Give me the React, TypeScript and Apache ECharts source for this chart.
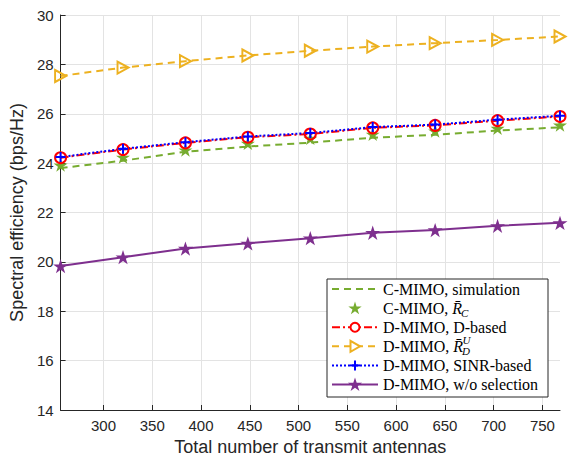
import React, { useEffect, useRef } from 'react';
import * as echarts from 'echarts';

const antennas = [256, 320, 384, 448, 512, 576, 640, 704, 768];
const cmimoSim = [23.8, 24.1, 24.46, 24.67, 24.83, 25.03, 25.15, 25.32, 25.45];
const cmimoRc = [23.92, 24.24, 24.53, 24.8, 25.0, 25.17, 25.3, 25.41, 25.54];
const dmimoD = [24.22, 24.55, 24.82, 25.05, 25.18, 25.43, 25.53, 25.72, 25.89];
const dmimoRdU = [27.53, 27.87, 28.13, 28.36, 28.55, 28.72, 28.86, 28.99, 29.13];
const dmimoSinr = [24.25, 24.58, 24.85, 25.08, 25.22, 25.46, 25.56, 25.76, 25.92];
const dmimoNoSel = [19.83, 20.19, 20.54, 20.75, 20.96, 21.18, 21.29, 21.46, 21.58];
const xTicks = [300, 350, 400, 450, 500, 550, 600, 650, 700, 750];

const GREEN = '#77AC30';
const RED = '#FF0000';
const YELLOW = '#EDB120';
const BLUE = '#0000FF';
const PURPLE = '#7E2F8E';
const AXIS = '#262626';

const STAR =
  'path://M50,0L61.23,34.55L97.55,34.55L68.16,55.9L79.39,90.45L50,69.1L20.61,90.45L31.84,55.9L2.45,34.55L38.77,34.55Z';
const TRI_RIGHT = 'path://M0,0L9,5L0,10Z';
const PLUS = 'path://M4,0H6V4H10V6H6V10H4V6H0V4H4Z';

const zip = (ys: number[]) => antennas.map((x, i) => [x, ys[i]]);

const starPoints = (cx: number, cy: number, R: number) => {
  const pts: number[][] = [];
  const r = R * 0.382;
  for (let i = 0; i < 10; i++) {
    const a = ((-90 + i * 36) * Math.PI) / 180;
    const rr = i % 2 === 0 ? R : r;
    pts.push([cx + rr * Math.cos(a), cy + 0.5 + rr * Math.sin(a)]);
  }
  return pts;
};

const SERIF = '"Liberation Serif", "Times New Roman", serif';
const SANS = '"Liberation Sans", Arial, Helvetica, sans-serif';

function measure(text: string, font: string) {
  const c = document.createElement('canvas').getContext('2d');
  if (!c) return text.length * 7;
  c.font = font;
  return c.measureText(text).width;
}

function buildLegend() {
  const LX = 327, LY = 279, LW = 221, LH = 118;
  const lx1 = 332, lx2 = 378, mx = 355, tx = 383;
  const fs = 16;
  const rowY = (i: number) => LY + 10 + i * 19.1;
  const els: any[] = [];
  els.push({
    type: 'rect',
    shape: { x: LX, y: LY, width: LW, height: LH },
    style: { fill: '#fff', stroke: AXIS, lineWidth: 1 },
    z: 100,
  });
  const line = (i: number, color: string, dash: any) => ({
    type: 'line',
    shape: { x1: lx1, y1: rowY(i), x2: lx2, y2: rowY(i) },
    style: { stroke: color, lineWidth: 2, lineDash: dash },
    z: 101,
  });
  const txt = (x: number, y: number, text: string, size = fs, italic = false) => ({
    type: 'text',
    x,
    y,
    style: {
      text,
      fontSize: size,
      fontFamily: SERIF,
      fontStyle: italic ? 'italic' : 'normal',
      fill: '#000',
      verticalAlign: 'middle',
      align: 'left',
    },
    z: 102,
  });
  const rbar = (i: number, prefix: string, sub: string, sup?: string) => {
    const y = rowY(i);
    const w1 = measure(prefix, `${fs}px ${SERIF}`);
    const w2 = measure('R', `italic ${fs}px ${SERIF}`);
    els.push(txt(tx, y, prefix));
    els.push(txt(tx + w1, y, 'R\u0304', fs, true));
    els.push(txt(tx + w1 + w2 - 1, y + 5, sub, 11, true));
    if (sup) els.push(txt(tx + w1 + w2 - 0.5, y - 6, sup, 11, true));
  };

  // Row 0: C-MIMO simulation
  els.push(line(0, GREEN, [7, 5]));
  els.push(txt(tx, rowY(0), 'C-MIMO, simulation'));
  // Row 1: C-MIMO R_C
  els.push({
    type: 'polygon',
    shape: { points: starPoints(mx, rowY(1), 7) },
    style: { fill: GREEN },
    z: 101,
  });
  rbar(1, 'C-MIMO, ', 'C');
  // Row 2: D-based
  els.push(line(2, RED, [8, 3, 2, 3]));
  els.push({
    type: 'circle',
    shape: { cx: mx, cy: rowY(2), r: 4.5 },
    style: { fill: '#fff', stroke: RED, lineWidth: 2 },
    z: 101,
  });
  els.push(txt(tx, rowY(2), 'D-MIMO, D-based'));
  // Row 3: R_D^U
  els.push(line(3, YELLOW, [7, 5]));
  els.push({
    type: 'polygon',
    shape: { points: [[mx - 4.5, rowY(3) - 5.5], [mx + 5, rowY(3)], [mx - 4.5, rowY(3) + 5.5]] },
    style: { fill: '#fff', stroke: YELLOW, lineWidth: 2 },
    z: 101,
  });
  rbar(3, 'D-MIMO, ', 'D', 'U');
  // Row 4: SINR-based
  els.push(line(4, BLUE, [2, 2]));
  els.push({
    type: 'rect',
    shape: { x: mx - 1, y: rowY(4) - 5, width: 2, height: 10 },
    style: { fill: BLUE },
    z: 101,
  });
  els.push({
    type: 'rect',
    shape: { x: mx - 5, y: rowY(4) - 1, width: 10, height: 2 },
    style: { fill: BLUE },
    z: 101,
  });
  els.push(txt(tx, rowY(4), 'D-MIMO, SINR-based'));
  // Row 5: w/o selection
  els.push(line(5, PURPLE, null));
  els.push({
    type: 'polygon',
    shape: { points: starPoints(mx, rowY(5), 7.5) },
    style: { fill: PURPLE },
    z: 101,
  });
  els.push(txt(tx, rowY(5), 'D-MIMO, w/o selection'));
  return els;
}

export default function App() {
  const ref = useRef<HTMLDivElement>(null);
  useEffect(() => {
    document.body.style.margin = '0';
    const chart = echarts.init(ref.current!, null, { renderer: 'svg' });
    const option: any = {
      animation: false,
      backgroundColor: '#fff',
      grid: { left: 60, right: 10, top: 15, bottom: 51, containLabel: false },
      xAxis: {
        type: 'value',
        min: 256,
        max: 768,
        name: 'Total number of transmit antennas',
        nameLocation: 'middle',
        nameGap: 22,
        nameTextStyle: { fontSize: 18, fontFamily: SANS, color: AXIS },
        axisLine: { show: true, onZero: false, lineStyle: { color: AXIS, width: 1 } },
        axisTick: { show: true, inside: true, length: 5, customValues: xTicks, lineStyle: { color: AXIS } },
        axisLabel: { customValues: xTicks, fontSize: 15, fontFamily: SANS, color: AXIS, margin: 8 },
        splitLine: { show: true, lineStyle: { color: '#e3e3e3', width: 1 } },
      },
      yAxis: {
        type: 'value',
        min: 14,
        max: 30,
        interval: 2,
        name: 'Spectral efficiency (bps/Hz)',
        nameLocation: 'middle',
        nameGap: 27,
        nameTextStyle: { fontSize: 18, fontFamily: SANS, color: AXIS },
        axisLine: { show: true, onZero: false, lineStyle: { color: AXIS, width: 1 } },
        axisTick: { show: true, inside: true, length: 5, lineStyle: { color: AXIS } },
        axisLabel: { fontSize: 15, fontFamily: SANS, color: AXIS, margin: 7 },
        splitLine: { show: true, lineStyle: { color: '#e3e3e3', width: 1 } },
      },
      series: [
        {
          name: 'C-MIMO, simulation',
          type: 'line',
          data: zip(cmimoSim),
          symbol: 'none',
          lineStyle: { color: GREEN, width: 2, type: [7, 5] },
          itemStyle: { color: GREEN },
          silent: true,
        },
        {
          name: 'C-MIMO, R_C',
          type: 'scatter',
          data: zip(cmimoRc),
          symbol: STAR,
          symbolSize: 14,
          symbolKeepAspect: true,
          itemStyle: { color: GREEN, opacity: 1 },
          silent: true,
        },
        {
          name: 'D-MIMO, D-based',
          type: 'line',
          data: zip(dmimoD),
          symbol: 'circle',
          symbolSize: 11,
          showAllSymbol: true,
          lineStyle: { color: RED, width: 2, type: [8, 3, 2, 3] },
          itemStyle: { color: 'rgba(255,255,255,0)', borderColor: RED, borderWidth: 2 },
          silent: true,
        },
        {
          name: 'D-MIMO, R_D^U',
          type: 'line',
          data: zip(dmimoRdU),
          symbol: TRI_RIGHT,
          symbolSize: [11, 12],
          showAllSymbol: true,
          lineStyle: { color: YELLOW, width: 2, type: [7, 5] },
          itemStyle: { color: 'rgba(255,255,255,0)', borderColor: YELLOW, borderWidth: 2 },
          silent: true,
        },
        {
          name: 'D-MIMO, SINR-based',
          type: 'line',
          data: zip(dmimoSinr),
          symbol: PLUS,
          symbolSize: 10,
          showAllSymbol: true,
          lineStyle: { color: BLUE, width: 2, type: [2, 2] },
          itemStyle: { color: BLUE },
          silent: true,
        },
        {
          name: 'D-MIMO, w/o selection',
          type: 'line',
          data: zip(dmimoNoSel),
          symbol: STAR,
          symbolSize: 15,
          symbolKeepAspect: true,
          showAllSymbol: true,
          lineStyle: { color: PURPLE, width: 2 },
          itemStyle: { color: PURPLE },
          silent: true,
        },
      ],
      graphic: buildLegend(),
    };
    chart.setOption(option);
    return () => chart.dispose();
  }, []);
  return <div ref={ref} style={{ width: 570, height: 461 }} />;
}
